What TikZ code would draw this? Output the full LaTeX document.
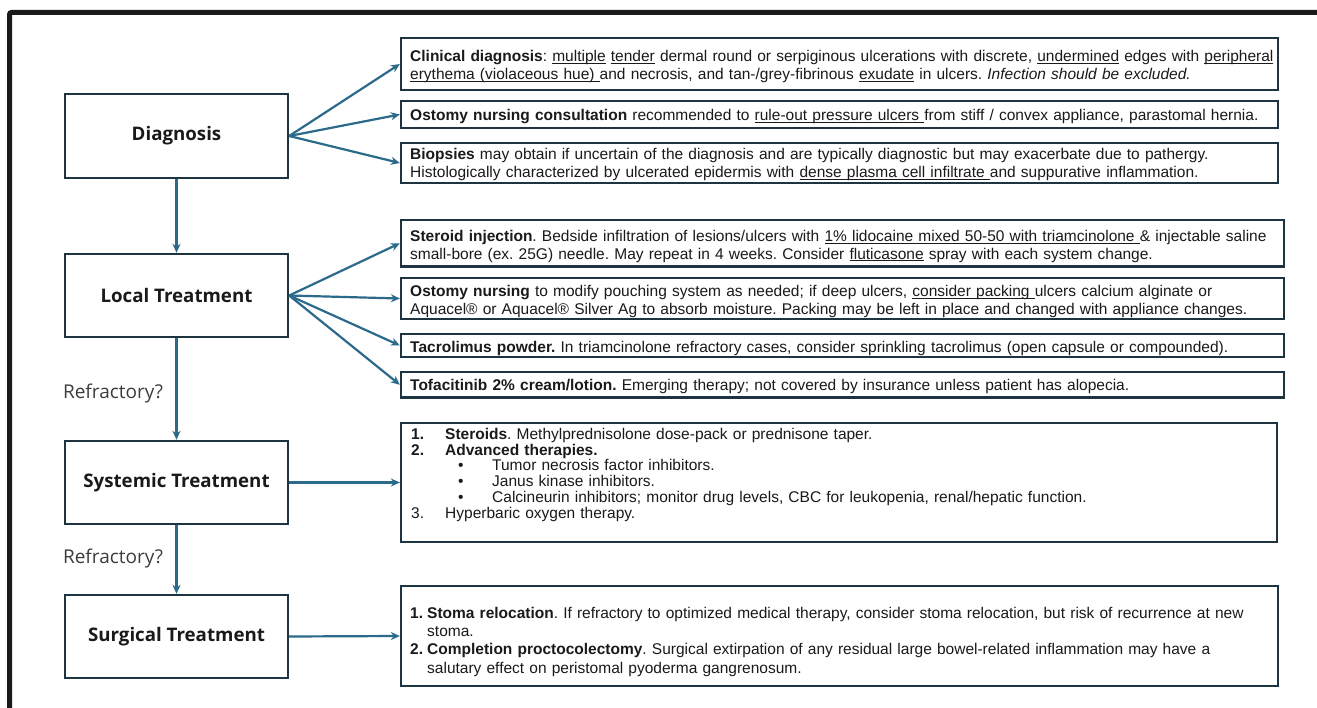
\documentclass[tikz,border=0pt]{standalone}
\usepackage{fontspec}
\usetikzlibrary{arrows.meta}
\newfontfamily\arialf{Liberation Sans}
\newfontfamily\lblf{Open Sans}
\definecolor{arrowc}{HTML}{2C6A8C}
\definecolor{boxc}{HTML}{1E3440}
\definecolor{framec}{HTML}{1A1A1A}
\definecolor{txtc}{HTML}{1A1A1A}
\newsavebox\ulsave
\newcommand{\ul}[1]{\leavevmode\sbox\ulsave{#1}\rlap{\rule[-1.9pt]{\wd\ulsave}{0.8pt}}\usebox\ulsave}
\tikzset{
  lbox/.style={draw=boxc, line width=2.4pt, minimum width=223pt, minimum height=84pt, inner sep=0pt, font=\lblf\bfseries\fontsize{18.7}{22}\selectfont, text=txtc},
  rbox/.style={draw=boxc, line width=2.3pt, inner sep=0pt},
  rtext/.style={anchor=base west, inner sep=0pt, text width=880pt, align=left, font=\arialf\frenchspacing\fontsize{15.5}{18}\selectfont, text=txtc},
  conn/.style={draw=arrowc, line width=2.2pt, -{Stealth[length=9pt,width=8pt]}},
  reflabel/.style={font=\lblf\fontsize{19}{22}\selectfont, text=txtc!85}
}
\begin{document}
\begin{tikzpicture}[x=1pt,y=-1pt]
\useasboundingbox (0,0) rectangle (1317,708);
\fill[white] (0,0) rectangle (1317,708);
% frame
\draw[framec, line width=5pt, rounded corners=2pt] (9.5,720) -- (9.5,12.5) -- (1330,12.5);

% left boxes
\node[lbox] (diag) at (176.5,136) {Diagnosis};
\node[lbox, minimum height=83pt] (local) at (176.5,295.5) {Local Treatment};
\node[lbox, minimum height=83pt] (syst) at (176.5,482.5) {Systemic Treatment};
\node[lbox, minimum height=83pt] (surg) at (176.5,636.5) {Surgical Treatment};

\node[reflabel] (ref1) at (113,394) {Refractory?};
\node[reflabel] (ref2) at (113,559) {Refractory?};

% right boxes
\node[rbox, minimum width=877pt, minimum height=52pt] (c1) at (839.5,64) {};
\node[rbox, minimum width=877pt, minimum height=27pt] (c2) at (839.5,114.5) {};
\node[rbox, minimum width=877pt, minimum height=40pt] (c3) at (839.5,163) {};
\node[rbox, minimum width=883pt, minimum height=46.5pt] (l1) at (842.5,243.25) {};
\node[rbox, minimum width=883pt, minimum height=41pt] (l2) at (842.5,298.5) {};
\node[rbox, minimum width=883pt, minimum height=23pt] (l3) at (842.5,345.5) {};
\node[rbox, minimum width=883pt, minimum height=25.5pt] (l4) at (842.5,384.75) {};
\node[rbox, minimum width=876pt, minimum height=119pt] (s1) at (839,482.5) {};
\node[rbox, minimum width=877pt, minimum height=100pt] (g1) at (839.5,636) {};

% texts
\node[rtext] (c1t) at (410,62) {%
\textbf{Clinical diagnosis}: \ul{multiple} \ul{tender} dermal round or serpiginous ulcerations with discrete, \ul{undermined} edges with \ul{peripheral}\\
\ul{erythema (violaceous hue)\ }and necrosis, and tan-/grey-fibrinous \ul{exudate} in ulcers. \textit{Infection should be excluded.}};
\node[rtext] (c2t) at (410,120.7) {%
\textbf{Ostomy nursing consultation} recommended to \ul{rule-out pressure ulcers\ }from stiff / convex appliance, parastomal hernia.};
\node[rtext, font=\arialf\frenchspacing\fontsize{15.5}{18.4}\selectfont] (c3t) at (410,159.3) {%
\textbf{Biopsies} may obtain if uncertain of the diagnosis and are typically diagnostic but may exacerbate due to pathergy.\\
Histologically characterized by ulcerated epidermis with \ul{dense plasma cell infiltrate\ }and suppurative inflammation.};
\node[rtext, font=\arialf\frenchspacing\fontsize{15.5}{17.7}\selectfont] (l1t) at (410,241.7) {%
\textbf{Steroid injection}. Bedside infiltration of lesions/ulcers with \ul{1\% lidocaine mixed 50-50 with triamcinolone\ }\& injectable saline\\
small-bore (ex. 25G) needle. May repeat in 4 weeks. Consider \ul{fluticasone} spray with each system change.};
\node[rtext, font=\arialf\frenchspacing\fontsize{15.5}{17.6}\selectfont] (l2t) at (410,296.7) {%
\textbf{Ostomy nursing} to modify pouching system as needed; if deep ulcers, \ul{consider packing\ }ulcers calcium alginate or\\
Aquacel\textregistered{} or Aquacel\textregistered{} Silver Ag to absorb moisture. Packing may be left in place and changed with appliance changes.};
\node[rtext] (l3t) at (410,352.3) {%
\textbf{Tacrolimus powder.} In triamcinolone refractory cases, consider sprinkling tacrolimus (open capsule or compounded).};
\node[rtext] (l4t) at (410,390.7) {%
\textbf{Tofacitinib 2\% cream/lotion.} Emerging therapy; not covered by insurance unless patient has alopecia.};
\node[rtext, font=\arialf\frenchspacing\fontsize{15.5}{15.7}\selectfont] (s1t) at (411,439.5) {%
\makebox[34pt][l]{\textbf{1.}}\textbf{Steroids}. Methylprednisolone dose-pack or prednisone taper.\\
\makebox[34pt][l]{\textbf{2.}}\textbf{Advanced therapies.}\\
\hspace*{47pt}\makebox[34pt][l]{\textbullet}Tumor necrosis factor inhibitors.\\
\hspace*{47pt}\makebox[34pt][l]{\textbullet}Janus kinase inhibitors.\\
\hspace*{47pt}\makebox[34pt][l]{\textbullet}Calcineurin inhibitors; monitor drug levels, CBC for leukopenia, renal/hepatic function.\\
\makebox[34pt][l]{3.}Hyperbaric oxygen therapy.};
\node[rtext, font=\arialf\frenchspacing\fontsize{15.5}{18.3}\selectfont] (g1t) at (410,618.3) {%
\makebox[17pt][l]{\textbf{1.}}\textbf{Stoma relocation}. If refractory to optimized medical therapy, consider stoma relocation, but risk of recurrence at new\\
\hspace*{17pt}stoma.\\
\makebox[17pt][l]{\textbf{2.}}\textbf{Completion proctocolectomy}. Surgical extirpation of any residual large bowel-related inflammation may have a\\
\hspace*{17pt}salutary effect on peristomal pyoderma gangrenosum.};

% connectors
\draw[conn] (diag.east) -- (c1.west);
\draw[conn] (diag.east) -- (c2.west);
\draw[conn] (diag.east) -- (c3.west);
\draw[conn] (local.east) -- (l1.west);
\draw[conn] (local.east) -- (l2.west);
\draw[conn] (local.east) -- (l3.west);
\draw[conn] (local.east) -- (l4.west);
\draw[conn] (syst.east) -- (s1.west);
\draw[conn] (surg.east) -- (g1.west);
\draw[conn] (diag.south) -- (local.north);
\draw[conn] (local.south) -- (syst.north);
\draw[conn] (syst.south) -- (surg.north);
\end{tikzpicture}
\end{document}
